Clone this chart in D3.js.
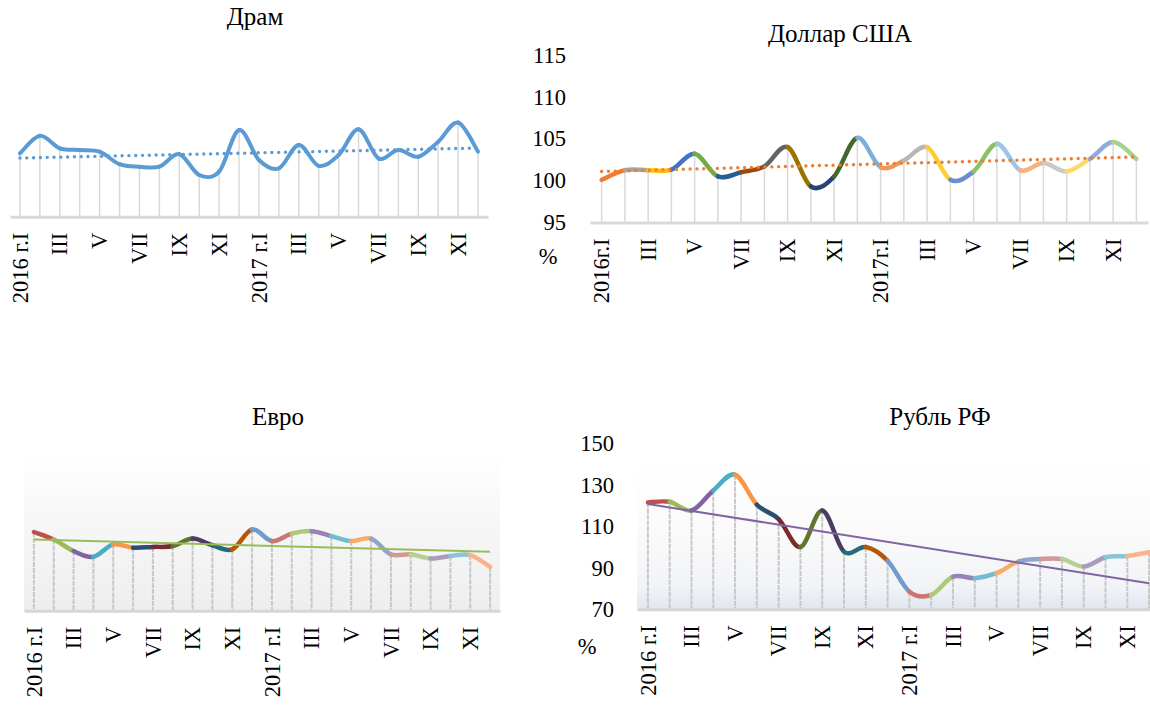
<!DOCTYPE html>
<html>
<head>
<meta charset="utf-8">
<script src="https://cdn.jsdelivr.net/npm/d3@7"></script>
<style>
  body { margin: 0; background: #fff; }
  svg { display: block; font-family: "Liberation Serif", "Times New Roman", serif; }
</style>
</head>
<body>
<svg id="chart" width="1150" height="707"></svg>
<script>
"use strict";

// category labels
const months = ["I", "II", "III", "IV", "V", "VI", "VII", "VIII", "IX", "X", "XI", "XII"];
const years = ["2016", "2017"];

// indices, % to previous period
const dramValues = [102.6, 104.7, 103.2, 103.0, 102.8, 101.3, 101.0, 101.0, 102.5, 100.0, 100.4, 105.4,
                    101.8, 100.8, 103.6, 101.1, 102.4, 105.5, 102.0, 103.0, 102.2, 104.0, 106.3, 102.8];
const dollarValues = [100.1, 101.25, 101.25, 101.3, 103.2, 100.5, 101.0, 101.7, 104.0, 99.3, 100.5, 105.1,
                      101.6, 102.4, 104.0, 100.1, 101.1, 104.4, 101.25, 102.1, 101.1, 102.6, 104.6, 102.6];
const euroValues = [104.5, 103.6, 102.2, 101.5, 103.0, 102.6, 102.7, 102.8, 103.7, 102.9, 102.4, 104.8,
                    103.4, 104.3, 104.6, 104.0, 103.4, 103.7, 101.8, 101.8, 101.3, 101.6, 101.7, 100.3];
const rubleValues = [121.5, 121.8, 117.6, 127.3, 134.9, 120.4, 113.5, 100.0, 117.6, 97.8, 100.0, 93.4,
                     78.5, 76.9, 85.7, 85.0, 87.4, 93.0, 94.2, 94.2, 90.6, 95.1, 95.7, 97.5];

const dollarTicks = [95, 100, 105, 110, 115];
const rubleTicks = [70, 90, 110, 130, 150];

// excel "vary colors by point" palettes
const office2013 = ["#5B9BD5", "#ED7D31", "#A5A5A5", "#FFC000", "#4472C4", "#70AD47",
                    "#255E91", "#9E480E", "#636363", "#997300", "#264478", "#43682B",
                    "#7CAFDD", "#F1975A", "#B7B7B7", "#FFCD33", "#698ED0", "#8CC168",
                    "#9DC3E6", "#F4B183", "#C9C9C9", "#FFD966", "#8FAADC", "#A9D18E"];
const office2007 = ["#4F81BD", "#C0504D", "#9BBB59", "#8064A2", "#4BACC6", "#F79646",
                    "#2C4D75", "#772C2A", "#5F7530", "#4D3B62", "#276A7C", "#B65708",
                    "#729ACA", "#CD7371", "#AFC97A", "#9983B5", "#6FBDD1", "#F9AB6B",
                    "#8EA5CB", "#D09897", "#B8CE94", "#A99BBD", "#8DC4D4", "#F9B48A"];

const svg = d3.select("#chart");
const defs = svg.append("defs");

function categoryLabels(sep) {
    const out = [];
    years.forEach(y => months.forEach((m, i) => out.push(i === 0 ? y + sep + "г." + m : m)));
    return out;
}

// bezier piece of a uniform catmull-rom curve between point k and k+1
function segment(pts, k) {
    const n = pts.length;
    const p0 = pts[Math.max(k - 1, 0)], p1 = pts[k], p2 = pts[k + 1], p3 = pts[Math.min(k + 2, n - 1)];
    const p = d3.path();
    p.moveTo(p1[0], p1[1]);
    p.bezierCurveTo(p1[0] + (p2[0] - p0[0]) / 6, p1[1] + (p2[1] - p0[1]) / 6,
                    p2[0] - (p3[0] - p1[0]) / 6, p2[1] - (p3[1] - p1[1]) / 6,
                    p2[0], p2[1]);
    return p.toString();
}

function drawPanel(cfg) {
    const g = svg.append("g");
    const idx = d3.range(cfg.values.length);
    const labels = categoryLabels(cfg.sep);

    const x = d3.scaleBand().domain(idx).range([cfg.x0, cfg.x1]);
    const cx = i => x(i) + x.bandwidth() / 2;
    const y = d3.scaleLinear().domain(cfg.domain).range([cfg.base, cfg.top]);

    // plot area fill
    if (cfg.fill) {
        const id = "grad" + cfg.key;
        const grad = defs.append("linearGradient").attr("id", id)
            .attr("x1", 0).attr("y1", 0).attr("x2", 0).attr("y2", 1);
        cfg.fill.forEach(s => grad.append("stop").attr("offset", s[0]).attr("stop-color", s[1]));
        g.append("rect")
            .attr("x", cfg.x0).attr("y", cfg.fillTop)
            .attr("width", cfg.x1 - cfg.x0).attr("height", cfg.base - cfg.fillTop)
            .attr("fill", "url(#" + id + ")");
    }

    // title
    g.append("text")
        .attr("x", cfg.titleX).attr("y", cfg.titleY)
        .attr("text-anchor", "middle")
        .style("font-size", "25px")
        .text(cfg.title);

    // drop lines
    g.append("g").selectAll("line")
        .data(idx)
        .join("line")
        .attr("x1", cx).attr("x2", cx)
        .attr("y1", i => y(cfg.values[i])).attr("y2", cfg.base)
        .attr("stroke", cfg.dropColor)
        .attr("stroke-width", cfg.dropWidth)
        .attr("stroke-dasharray", cfg.dropDash || null);

    // category axis
    const xAxis = g.append("g")
        .attr("transform", "translate(0," + cfg.base + ")")
        .call(d3.axisBottom(x)
            .tickValues(idx.filter(i => i % 2 === 0))
            .tickFormat(i => labels[i])
            .tickSize(0).tickSizeOuter(0));
    xAxis.select(".domain").attr("stroke", cfg.axisColor).attr("stroke-width", 3);
    xAxis.selectAll("text")
        .attr("transform", "rotate(-90)")
        .attr("x", -16).attr("y", 0).attr("dy", "0.34em")
        .style("text-anchor", "end")
        .style("font-size", "22.5px")
        .style("font-family", "Liberation Serif, Times New Roman, serif")
        .attr("fill", "#000");

    // value axis (labels only)
    if (cfg.yTicks) {
        const yAxis = g.append("g")
            .attr("transform", "translate(" + cfg.labelRight + ",0)")
            .call(d3.axisLeft(y).tickValues(cfg.yTicks).tickSize(0).tickPadding(0));
        yAxis.select(".domain").remove();
        yAxis.selectAll("text")
            .style("font-size", "22.5px")
            .style("font-family", "Liberation Serif, Times New Roman, serif")
            .attr("fill", "#000");
        g.append("text")
            .attr("x", cfg.pctX).attr("y", cfg.pctY)
            .attr("text-anchor", "middle")
            .style("font-size", "22.5px")
            .text("%");
    }

    // smoothed line, one colour per segment or a single colour
    const pts = idx.map(i => [cx(i), y(cfg.values[i])]);
    g.append("g").selectAll("path")
        .data(idx.slice(0, -1))
        .join("path")
        .attr("d", k => segment(pts, k))
        .attr("fill", "none")
        .attr("stroke", k => cfg.palette ? cfg.palette[k + 1] : cfg.lineColor)
        .attr("stroke-width", cfg.lineWidth)
        .attr("stroke-linecap", "round");

    // linear trend line (least squares)
    const mx = d3.mean(idx), my = d3.mean(cfg.values);
    const slope = d3.sum(idx, i => (i - mx) * (cfg.values[i] - my)) / d3.sum(idx, i => (i - mx) * (i - mx));
    const trend = i => my + slope * (i - mx);
    const last = idx.length - 1;
    g.append("line")
        .attr("x1", cx(0)).attr("y1", y(trend(0)))
        .attr("x2", cx(last)).attr("y2", y(trend(last)))
        .attr("stroke", cfg.trendColor)
        .attr("stroke-width", cfg.trendWidth)
        .attr("stroke-linecap", cfg.trendDotted ? "round" : "butt")
        .attr("stroke-dasharray", cfg.trendDotted ? "0.01,6.8" : null);
}

drawPanel({
    key: "dram", title: "Драм", titleX: 255, titleY: 25,
    values: dramValues, sep: " ",
    x0: 10, x1: 488, base: 216.7, top: 50, domain: [95, 115],
    dropColor: "#d9d9d9", dropWidth: 1.5, axisColor: "#d9d9d9",
    lineColor: "#5B9BD5", lineWidth: 4,
    trendColor: "#5B9BD5", trendWidth: 3.4, trendDotted: true
});

drawPanel({
    key: "usd", title: "Доллар США", titleX: 840, titleY: 42,
    values: dollarValues, sep: "",
    x0: 590, x1: 1148, base: 222.5, top: 55, domain: [95, 115],
    yTicks: dollarTicks, labelRight: 566, pctX: 548, pctY: 264,
    dropColor: "#d9d9d9", dropWidth: 1.5, axisColor: "#d9d9d9",
    palette: office2013, lineWidth: 4.5,
    trendColor: "#ED7D31", trendWidth: 3.4, trendDotted: true
});

drawPanel({
    key: "eur", title: "Евро", titleX: 278, titleY: 425,
    values: euroValues, sep: " ",
    x0: 24, x1: 500, base: 610.7, top: 445, domain: [95, 115],
    fill: [[0, "#ffffff"], [0.3, "#f9f9f9"], [1, "#eeeeee"]], fillTop: 455,
    dropColor: "#c8c8c8", dropWidth: 2, dropDash: "5,1", axisColor: "#d6d6d6",
    palette: office2007, lineWidth: 4.5,
    trendColor: "#9BBB59", trendWidth: 2, trendDotted: false
});

drawPanel({
    key: "rub", title: "Рубль РФ", titleX: 940, titleY: 425,
    values: rubleValues, sep: " ",
    x0: 637, x1: 1160, base: 609.3, top: 443.3, domain: [70, 150],
    yTicks: rubleTicks, labelRight: 614, pctX: 587, pctY: 654,
    fill: [[0, "#ffffff"], [0.5, "#fafafa"], [0.85, "#f1f3f6"], [1, "#e1e6ef"]], fillTop: 462,
    dropColor: "#c8c8c8", dropWidth: 2, dropDash: "5,1", axisColor: "#d6d6d6",
    palette: office2007, lineWidth: 4.5,
    trendColor: "#8064A2", trendWidth: 2, trendDotted: false
});
</script>
</body>
</html>
